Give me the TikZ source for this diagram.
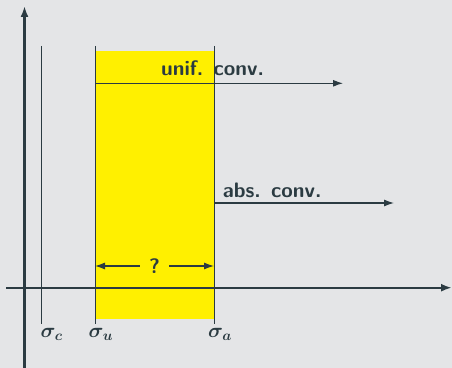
\documentclass[tikz,border=0pt]{standalone}
\usepackage{amsmath, bm}
\usepackage{tikz}
\usetikzlibrary{arrows.meta, positioning}
\usepackage{xcolor}
\definecolor{SlateDark}{HTML}{2B3B42}
\definecolor{BoxYellow}{HTML}{FFF000}
\definecolor{PageGray}{HTML}{E4E5E7}
\DeclareMathSizes{20}{20}{15.5}{11}

\begin{document}
\begin{tikzpicture}[x=10bp, y=10bp,
  axis/.style={-{Latex[length=11bp, width=8bp]}, line width=2.2bp, SlateDark},
  absc/.style={line width=0.8bp, SlateDark},
  conv/.style={-{Latex[length=10bp, width=7bp]}, line width=1.1bp, SlateDark},
  lbl/.style={font=\fontsize{21}{25}\selectfont\sffamily\bfseries, text=SlateDark, inner sep=0pt},
  sig/.style={font=\fontsize{20}{24}\selectfont\boldmath, text=SlateDark, inner sep=0pt, anchor=north},
]
  \fill[PageGray] (0,0) rectangle (45.2,36.8);
  \useasboundingbox (0,0) rectangle (45.2,36.8);
  \fill[BoxYellow] (9.5,4.9) rectangle (21.4,31.7);
  % abscissae sigma_c, sigma_u, sigma_a
  \foreach \name/\x/\lx in {c/4.15/5.17, u/9.5/10.08, a/21.4/22.0} {
    \coordinate (top\name) at (\x,32.2);
    \coordinate (bot\name) at (\x,4.4);
    \draw[absc] (top\name) -- (bot\name);
    \node[sig] (sig\name) at (\lx,4.0) {$\bm{\sigma}_{\bm{\name}}$};
  }
  % axes
  \coordinate (xstart) at (0.6,8.03);
  \coordinate (xend) at (45.2,8.03);
  \coordinate (ystart) at (2.45,0);
  \coordinate (yend) at (2.45,36.2);
  \draw[axis] (xstart) -- (xend);
  \draw[axis] (ystart) -- (yend);
  % convergence half-planes
  \coordinate (unifstart) at (9.5,28.47);
  \coordinate (unifend) at (34.3,28.47);
  \draw[conv] (unifstart) -- (unifend);
  \node[lbl, anchor=base] (unif) at (21.25,29.2) {unif. conv.};
  \coordinate (absstart) at (21.4,16.5);
  \coordinate (absend) at (39.4,16.5);
  \draw[conv] (absstart) -- (absend);
  \node[lbl, anchor=base west] (absc) at (22.27,17.07) {abs. conv.};
  % the unknown strip
  \coordinate (qleft) at (9.5,10.2);
  \coordinate (qright) at (21.4,10.2);
  \draw[conv, {Latex[length=10bp, width=7bp]}-{Latex[length=10bp, width=7bp]}] (qleft) -- node[lbl, fill=BoxYellow, inner xsep=9bp, inner ysep=2bp] (qmark) {?} (qright);
\end{tikzpicture}
\end{document}
